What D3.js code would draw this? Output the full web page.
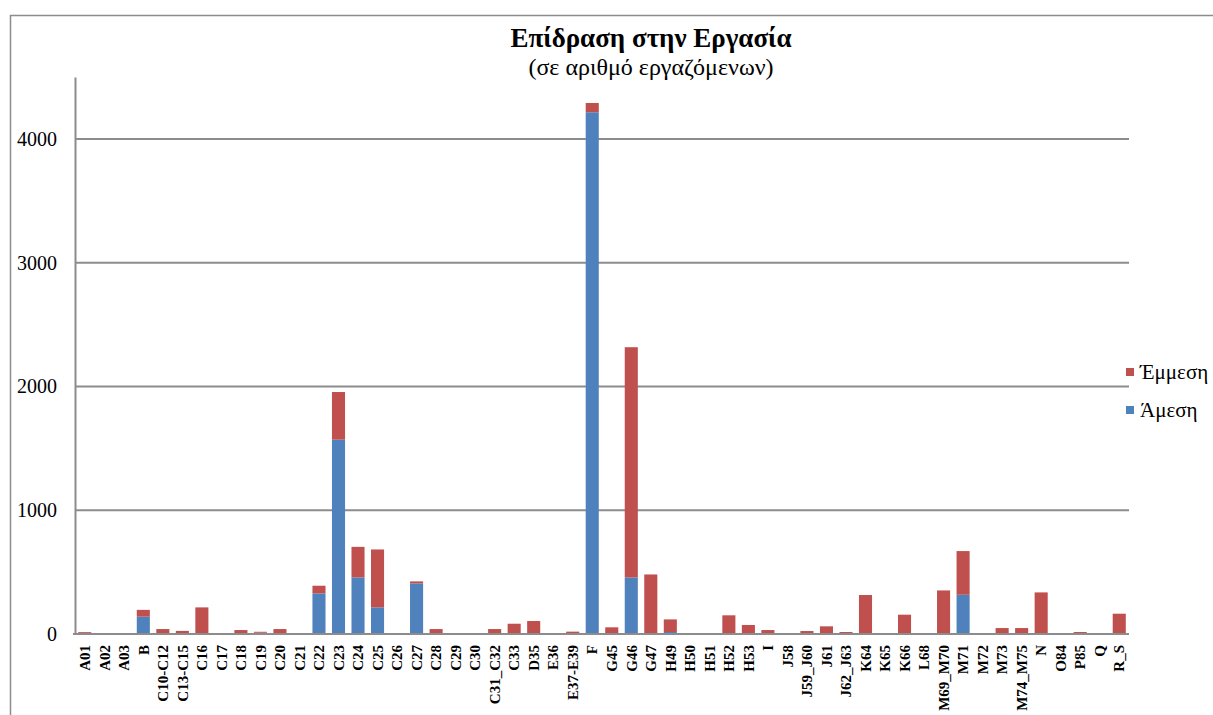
<!DOCTYPE html>
<html>
<head>
<meta charset="utf-8">
<script src="https://cdn.jsdelivr.net/npm/d3@7/dist/d3.min.js"></script>
<style>
  html, body { margin: 0; padding: 0; background: #fff; }
  svg { display: block; }
</style>
</head>
<body>
<svg id="chart" width="1213" height="715"></svg>
<script>
// Sectors (NACE codes) along the x axis
const categories = [
  "A01","A02","A03","B","C10-C12","C13-C15","C16","C17","C18","C19","C20","C21",
  "C22","C23","C24","C25","C26","C27","C28","C29","C30","C31_C32","C33","D35",
  "E36","E37-E39","F","G45","G46","G47","H49","H50","H51","H52","H53","I",
  "J58","J59_J60","J61","J62_J63","K64","K65","K66","L68","M69_M70","M71","M72",
  "M73","M74_M75","N","O84","P85","Q","R_S"
];

// Direct employment effect (Άμεση)
const direct = [
  0,0,0,140,0,0,0,0,0,10,0,0,
  328,1570,457,215,0,409,0,0,0,0,0,0,
  0,0,4215,0,457,0,16,0,0,0,0,0,
  0,0,0,0,0,0,0,0,0,317,0,
  0,0,0,0,0,0,0
];

// Indirect employment effect (Έμμεση)
const indirect = [
  15,0,0,55,40,25,215,8,32,8,40,8,
  62,385,247,468,8,16,40,0,8,40,83,105,
  5,19,75,54,1860,481,102,0,4,151,73,32,
  8,24,62,16,315,8,156,4,352,353,0,
  48,48,336,0,16,0,164
];

const yTicks = [0, 1000, 2000, 3000, 4000];
const seriesNames = ["Άμεση", "Έμμεση"];
const seriesColors = ["#4F81BD", "#C0504D"];

const FONT = "'Liberation Serif', 'Times New Roman', Times, serif";

const svg = d3.select("#chart");

const plot = { left: 75, right: 1129, top: 77, bottom: 634 };

const x = d3.scaleBand()
  .domain(categories)
  .range([plot.left, plot.right])
  .paddingInner(0.33)
  .paddingOuter(0.165);

const y = d3.scaleLinear()
  .domain([0, 4500])
  .range([plot.bottom, plot.top]);

// Outer chart frame
svg.append("rect")
  .attr("x", 10.5).attr("y", 15.5)
  .attr("width", 1230).attr("height", 740)
  .attr("fill", "none")
  .attr("stroke", "#8c8c8c")
  .attr("stroke-width", 1.5);

// Title and subtitle
svg.append("text")
  .attr("x", 651).attr("y", 47)
  .attr("text-anchor", "middle")
  .style("font-family", FONT)
  .style("font-size", "27px")
  .style("font-weight", "bold")
  .text("Επίδραση στην Εργασία");

svg.append("text")
  .attr("x", 651).attr("y", 75)
  .attr("text-anchor", "middle")
  .style("font-family", FONT)
  .style("font-size", "24px")
  .text("(σε αριθμό εργαζόμενων)");

// Horizontal gridlines
svg.append("g")
  .selectAll("line")
  .data(yTicks.filter(d => d > 0))
  .join("line")
  .attr("x1", plot.left).attr("x2", plot.right)
  .attr("y1", d => y(d)).attr("y2", d => y(d))
  .attr("stroke", "#8c8c8c")
  .attr("stroke-width", 2);

// Y axis
const yAxis = svg.append("g")
  .attr("transform", `translate(${plot.left},0)`)
  .call(d3.axisLeft(y).tickValues(yTicks).tickSize(0).tickPadding(18).tickFormat(d3.format("d")));
yAxis.select(".domain").attr("stroke", "#8c8c8c").attr("stroke-width", 2);
yAxis.selectAll("text")
  .style("font-family", FONT)
  .style("font-size", "20px")
  .attr("fill", "#000");

// Stacked bars
const rows = categories.map((c, i) => ({ cat: c, "Άμεση": direct[i], "Έμμεση": indirect[i] }));
const stacked = d3.stack().keys(seriesNames)(rows);

svg.append("g")
  .selectAll("g")
  .data(stacked)
  .join("g")
  .attr("fill", (d, i) => seriesColors[i])
  .selectAll("rect")
  .data(d => d.filter(s => s[1] - s[0] > 0))
  .join("rect")
  .attr("x", d => x(d.data.cat))
  .attr("y", d => y(d[1]))
  .attr("width", x.bandwidth())
  .attr("height", d => y(d[0]) - y(d[1]));

// X axis
const xAxis = svg.append("g")
  .attr("transform", `translate(0,${plot.bottom})`)
  .call(d3.axisBottom(x).tickSize(0).tickPadding(0));
xAxis.select(".domain")
  .attr("stroke", "#8c8c8c")
  .attr("stroke-width", 2)
  .attr("d", `M${plot.left - 2},0H${plot.right}`);
xAxis.selectAll(".tick text")
  .attr("transform", "translate(0,11) rotate(-90)")
  .attr("text-anchor", "end")
  .attr("x", 0).attr("y", 0).attr("dy", "0.35em")
  .style("font-family", FONT)
  .style("font-size", "15px")
  .style("font-weight", "bold")
  .attr("fill", "#000");

// Legend (Έμμεση on top, Άμεση below)
const legendItems = [
  { name: seriesNames[1], color: seriesColors[1], y: 372 },
  { name: seriesNames[0], color: seriesColors[0], y: 410 }
];
const legend = svg.append("g")
  .selectAll("g")
  .data(legendItems)
  .join("g")
  .attr("transform", d => `translate(1126,${d.y})`);
legend.append("rect")
  .attr("x", 0).attr("y", -4)
  .attr("width", 8).attr("height", 8)
  .attr("fill", d => d.color);
legend.append("text")
  .attr("x", 14).attr("y", 0).attr("dy", "0.35em")
  .style("font-family", FONT)
  .style("font-size", "21px")
  .attr("fill", "#000")
  .text(d => d.name);
</script>
</body>
</html>
